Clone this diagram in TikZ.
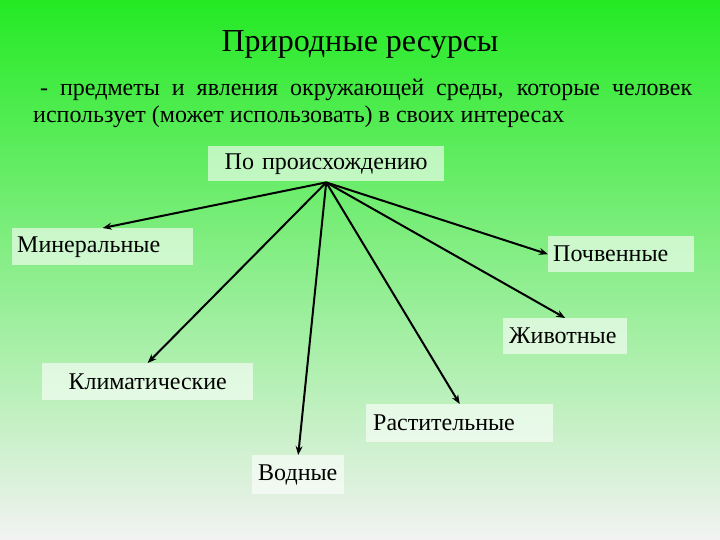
\documentclass[tikz,border=0pt]{standalone}
\usepackage{fontspec}
\setmainfont{Liberation Serif}
\usetikzlibrary{arrows.meta}
\definecolor{topgreen}{RGB}{36,234,36}
\definecolor{botgrey}{RGB}{242,242,242}
\begin{document}
\begin{tikzpicture}[x=1pt,y=-1pt,
  box/.style={fill=white, fill opacity=0.6, text opacity=1, inner ysep=0pt,
    anchor=north west, font=\fontsize{24}{28}\selectfont, align=left},
  conn/.style={line width=2pt, -{Stealth[length=9pt,width=7pt]}},
  txt/.style={inner sep=0pt, anchor=base west, font=\fontsize{24}{28}\selectfont}]
\shade[top color=topgreen, bottom color=botgrey] (0,0) rectangle (720,540);
\useasboundingbox (0,0) rectangle (720,540);
\node[inner sep=0pt, anchor=base, font=\fontsize{32}{36}\selectfont] (title) at (360,52) {Природные ресурсы};
\node[txt] (l1) at (40,96) {\makebox[652pt][s]{- предметы и явления окружающей среды, которые человек}};
\node[txt] (l2) at (33,123) {использует (может использовать) в своих интересах};
\node[box, align=center, text width=226pt, inner xsep=5pt, minimum height=35pt] (top) at (208,146) {По происхождению};
\node[box, text width=171pt, inner xsep=5pt, minimum height=37pt] (min) at (12,228) {Минеральные};
\node[box, text width=136pt, inner xsep=5pt, minimum height=36pt] (poch) at (548,236) {Почвенные};
\node[box, text width=112pt, inner xsep=6pt, minimum height=36pt] (zhiv) at (503,318) {Животные};
\node[box, align=center, text width=201pt, inner xsep=5pt, minimum height=37pt] (klim) at (42,363) {Климатические};
\node[box, text width=173pt, inner xsep=7pt, minimum height=38pt] (rast) at (366,404) {Растительные};
\node[box, text width=80pt, inner xsep=6pt, minimum height=39pt] (vod) at (252,455) {Водные};
\coordinate (src) at ([yshift=-1pt]top.south);
\draw[conn] (src) -- (min.north);
\draw[conn] (src) -- (poch.west);
\draw[conn] (src) -- (zhiv.north);
\draw[conn] (src) -- (klim.north);
\draw[conn] (src) -- (rast.north);
\draw[conn] (src) -- (vod.north);
\end{tikzpicture}
\end{document}
